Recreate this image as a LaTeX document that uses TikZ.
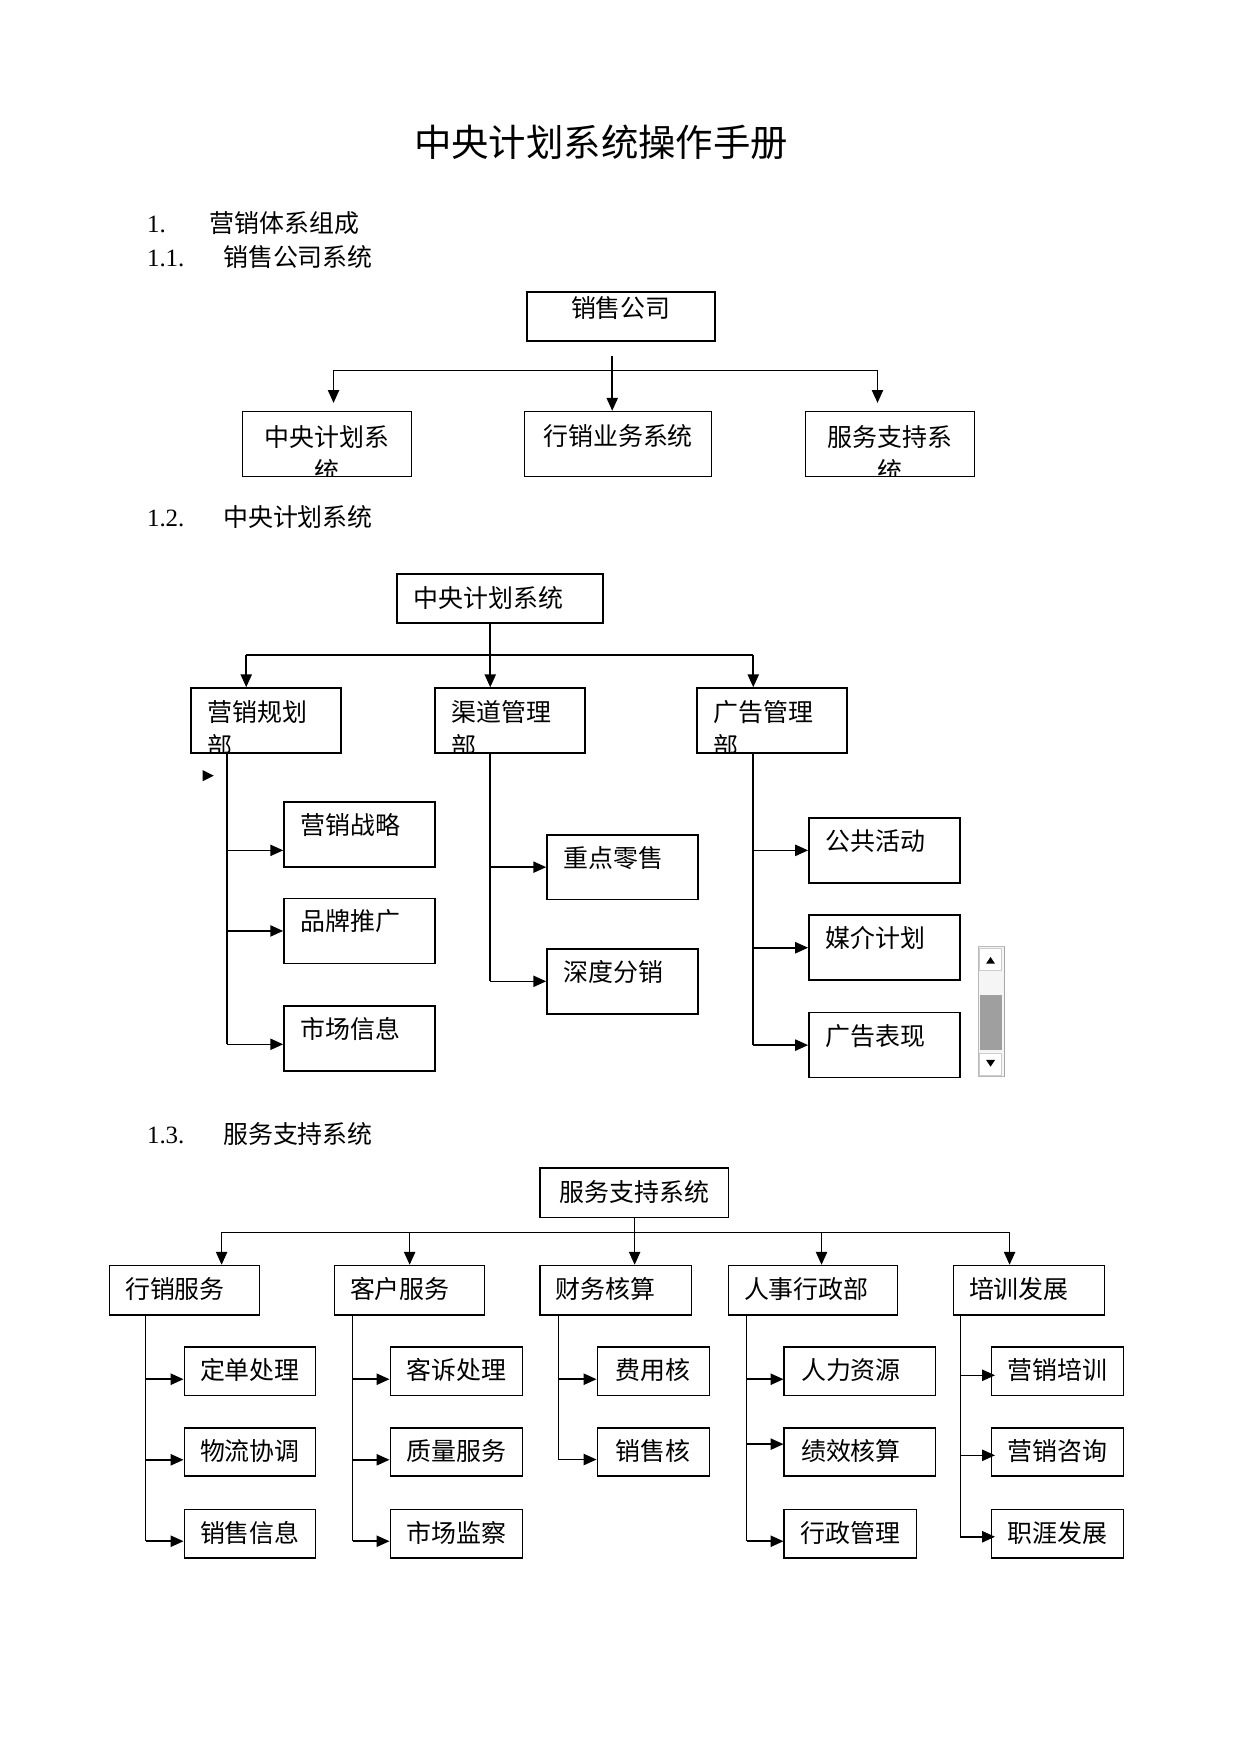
\documentclass[tikz,border=0pt]{standalone}
\usepackage{fontspec}
\setmainfont{Liberation Serif}
\newfontfamily\cjk{Noto Sans CJK SC}
\usetikzlibrary{arrows.meta}
\newlength\pxu
\setlength\pxu{0.018936cm}

\begin{document}
\begin{tikzpicture}[x=1\pxu, y=-1\pxu]

\tikzset{
    box/.style={draw, line width=0.8pt, anchor=north west, inner sep=0pt, font=\cjk\fontsize{12pt}{16.4pt}\selectfont},
    lbl/.style={draw=none, inner sep=0pt, minimum width=0pt, minimum height=0pt, font=\cjk\fontsize{12pt}{16.4pt}\selectfont},
    hd/.style={lbl, anchor=base west},
    sub/.style={box, text width=105\pxu, inner xsep=15\pxu, align=left, text height=29\pxu, text depth=29\pxu},
    dept/.style={box, text width=#1\pxu, inner xsep=14\pxu, align=left, text height=29\pxu, text depth=15\pxu},
    leaf/.style={box, text width=#1\pxu, align=center, text height=29\pxu, text depth=14\pxu},
    ln/.style={line width=0.75pt},
    arr/.style={line width=0.75pt, -{Triangle[length=6.2pt, width=5.4pt]}}
}
\useasboundingbox (0,0) rectangle (1109,1568);

\node[lbl, anchor=base, font=\cjk\fontsize{18pt}{20pt}\selectfont] (title) at (537,140) {中央计划系统操作手册};
\node[hd] (h1) at (131,208) {{\rmfamily\makebox[56\pxu][l]{1.}}营销体系组成};
\node[hd] (h11) at (131,238) {{\rmfamily\makebox[68\pxu][l]{1.1.}}销售公司系统};
\node[hd] (h12) at (131,470) {{\rmfamily\makebox[68\pxu][l]{1.2.}}中央计划系统};
\node[hd] (h13) at (131,1022) {{\rmfamily\makebox[68\pxu][l]{1.3.}}服务支持系统};

\node[box, text width=168\pxu, align=center, text height=23\pxu, text depth=21\pxu] (s) at (470,260) {销售公司};
\node[box, minimum width=151\pxu, minimum height=58\pxu, path picture={
    \node[lbl, anchor=north, text width=151\pxu, align=center, text height=30\pxu] (c1t) at (path picture bounding box.north) {中央计划系\\统};}] (c1) at (216,367) {};
\node[box, text width=167\pxu, align=center, text height=30\pxu, text depth=28\pxu] (c2) at (468,367) {行销业务系统};
\node[box, minimum width=151\pxu, minimum height=58\pxu, path picture={
    \node[lbl, anchor=north, text width=151\pxu, align=center, text height=30\pxu] (c3t) at (path picture bounding box.north) {服务支持系\\统};}] (c3) at (719,367) {};

\coordinate (s0) at (547,318);
\coordinate (sl) at (298,331);
\coordinate (sr) at (784,331);
\draw[arr] (s0) -- (s0 |- c2.north);
\draw[ln] (sl) -- (sr);
\draw[arr] (sl) -- ([yshift=7\pxu]sl |- c1.north);
\draw[arr] (sr) -- ([yshift=7\pxu]sr |- c3.north);

\node[box, text width=154\pxu, inner xsep=15\pxu, align=left, text height=30\pxu, text depth=14\pxu] (p) at (354,512) {中央计划系统};
\node[box, minimum width=134\pxu, minimum height=58\pxu, path picture={
    \node[lbl, anchor=north west, text width=106\pxu, align=left, text height=29\pxu] (m1t) at ([xshift=14\pxu]path picture bounding box.north west) {营销规划\\部};}] (m1) at (170,614) {};
\node[box, minimum width=134\pxu, minimum height=58\pxu, path picture={
    \node[lbl, anchor=north west, text width=106\pxu, align=left, text height=29\pxu] (m2t) at ([xshift=14\pxu]path picture bounding box.north west) {渠道管理\\部};}] (m2) at (388,614) {};
\node[box, minimum width=134\pxu, minimum height=58\pxu, path picture={
    \node[lbl, anchor=north west, text width=106\pxu, align=left, text height=29\pxu] (m3t) at ([xshift=14\pxu]path picture bounding box.north west) {广告管理\\部};}] (m3) at (622,614) {};

\node[sub] (a1) at (253,716) {营销战略};
\node[sub] (a2) at (253,802) {品牌推广};
\node[sub] (a3) at (253,898) {市场信息};
\node[sub] (b1) at (488,745) {重点零售};
\node[sub] (b2) at (488,847) {深度分销};
\node[sub] (e1) at (722,730) {公共活动};
\node[sub] (e2) at (722,817) {媒介计划};
\node[sub] (e3) at (722,904) {广告表现};

\coordinate (q1) at (220,585);
\coordinate (q2) at (438,585);
\coordinate (q3) at (673,585);
\draw[ln] (q2 |- p.south) -- (q2);
\draw[ln] (q1) -- (q3);
\draw[arr] (q1) -- (q1 |- m1.north);
\draw[arr] (q2) -- (q2 |- m2.north);
\draw[arr] (q3) -- (q3 |- m3.north);

\coordinate (v1) at (203,933);
\draw[ln] (v1 |- m1.south) -- (v1);
\draw[arr] ([yshift=-14\pxu]v1 |- a1.west) -- ([yshift=-14\pxu]a1.west);
\draw[arr] (v1 |- a2.west) -- (a2.west);
\draw[arr] (v1) -- (v1 -| a3.west);
\draw[ln] (q2 |- m2.south) -- (q2 |- b2.west);
\draw[arr] (q2 |- b1.west) -- (b1.west);
\draw[arr] (q2 |- b2.west) -- (b2.west);
\draw[ln] (q3 |- m3.south) -- (q3 |- e3.west);
\draw[arr] (q3 |- e1.west) -- (e1.west);
\draw[arr] (q3 |- e2.west) -- (e2.west);
\draw[arr] (q3 |- e3.west) -- (e3.west);

\fill (181,688) -- (191,693) -- (181,698) -- cycle;

\draw[gray!55, fill=gray!8] (874,846) rectangle (897,962);
\draw[gray!40, fill=white] (875,847) rectangle (895,867);
\fill (881,861) -- (889,861) -- (885,855) -- cycle;
\fill[gray!75] (876,889) rectangle (895,938);
\draw[gray!40, fill=white] (875,941) rectangle (895,961);
\fill (881,947) -- (889,947) -- (885,953) -- cycle;
\draw[gray!70] (897,846) -- (897,962);

\node[box, text width=168\pxu, align=center, text height=30\pxu, text depth=14\pxu] (t) at (482,1043) {服务支持系统};
\node[dept=106] (d1) at (97,1130) {行销服务};
\node[dept=106] (d2) at (298,1130) {客户服务};
\node[dept=107] (d3) at (482,1130) {财务核算};
\node[dept=123] (d4) at (650,1130) {人事行政部};
\node[dept=107] (d5) at (851,1130) {培训发展};

\coordinate (r1) at (198,1101);
\coordinate (r2) at (366,1101);
\coordinate (r3) at (567,1101);
\coordinate (r4) at (734,1101);
\coordinate (r5) at (902,1101);
\draw[ln] (t.south -| r3) -- (r3);
\draw[ln] (r1) -- (r5);
\draw[arr] (r1) -- (r1 |- d1.north);
\draw[arr] (r2) -- (r2 |- d2.north);
\draw[arr] (r3) -- (r3 |- d3.north);
\draw[arr] (r4) -- (r4 |- d4.north);
\draw[arr] (r5) -- (r5 |- d5.north);

\node[leaf=117] (f1) at (164,1203) {定单处理};
\node[leaf=117] (f2) at (164,1275) {物流协调};
\node[leaf=117] (f3) at (164,1348) {销售信息};
\node[leaf=118] (g1) at (348,1203) {客诉处理};
\node[leaf=118] (g2) at (348,1275) {质量服务};
\node[leaf=118] (g3) at (348,1348) {市场监察};
\node[leaf=100] (h1) at (533,1203) {费用核};
\node[leaf=100] (h2) at (533,1275) {销售核};
\node[leaf=105, inner xsep=15\pxu, align=left] (k1) at (700,1203) {人力资源};
\node[leaf=105, inner xsep=15\pxu, align=left] (k2) at (700,1275) {绩效核算};
\node[leaf=118] (k3) at (700,1348) {行政管理};
\node[leaf=118] (l1) at (885,1203) {营销培训};
\node[leaf=118] (l2) at (885,1275) {营销咨询};
\node[leaf=118] (l3) at (885,1348) {职涯发展};

\coordinate (w1) at (130,1377);
\draw[ln] (w1 |- d1.south) -- (w1);
\draw[arr] ([yshift=-7\pxu]w1 |- f1.west) -- ([yshift=-7\pxu]f1.west);
\draw[arr] ([yshift=-7\pxu]w1 |- f2.west) -- ([yshift=-7\pxu]f2.west);
\draw[arr] (w1) -- (w1 -| f3.west);

\coordinate (w2) at (315,1377);
\draw[ln] (w2 |- d2.south) -- (w2);
\draw[arr] ([yshift=-7\pxu]w2 |- g1.west) -- ([yshift=-7\pxu]g1.west);
\draw[arr] ([yshift=-7\pxu]w2 |- g2.west) -- ([yshift=-7\pxu]g2.west);
\draw[arr] (w2) -- (w2 -| g3.west);

\coordinate (w3) at (499,1304);
\draw[ln] (w3 |- d3.south) -- (w3);
\draw[arr] ([yshift=-7\pxu]w3 |- h1.west) -- ([yshift=-7\pxu]h1.west);
\draw[arr] (w3) -- (w3 -| h2.west);

\coordinate (w4) at (667,1377);
\draw[ln] (w4 |- d4.south) -- (w4);
\draw[arr] ([yshift=-7\pxu]w4 |- k1.west) -- ([yshift=-7\pxu]k1.west);
\draw[arr] ([yshift=7\pxu]w4 |- k2.west) -- ([yshift=7\pxu]k2.west);
\draw[arr] (w4) -- (w4 -| k3.west);

\coordinate (w5) at (858,1373);
\draw[ln] (w5 |- d5.south) -- (w5);
\draw[arr] ([yshift=-3.5\pxu]w5 |- l1.west) -- ([xshift=4\pxu, yshift=-3.5\pxu]l1.west);
\draw[arr] ([yshift=-3\pxu]w5 |- l2.west) -- ([xshift=4\pxu, yshift=-3\pxu]l2.west);
\draw[arr] (w5) -- ([xshift=4\pxu]w5 -| l3.west);

\end{tikzpicture}
\end{document}
